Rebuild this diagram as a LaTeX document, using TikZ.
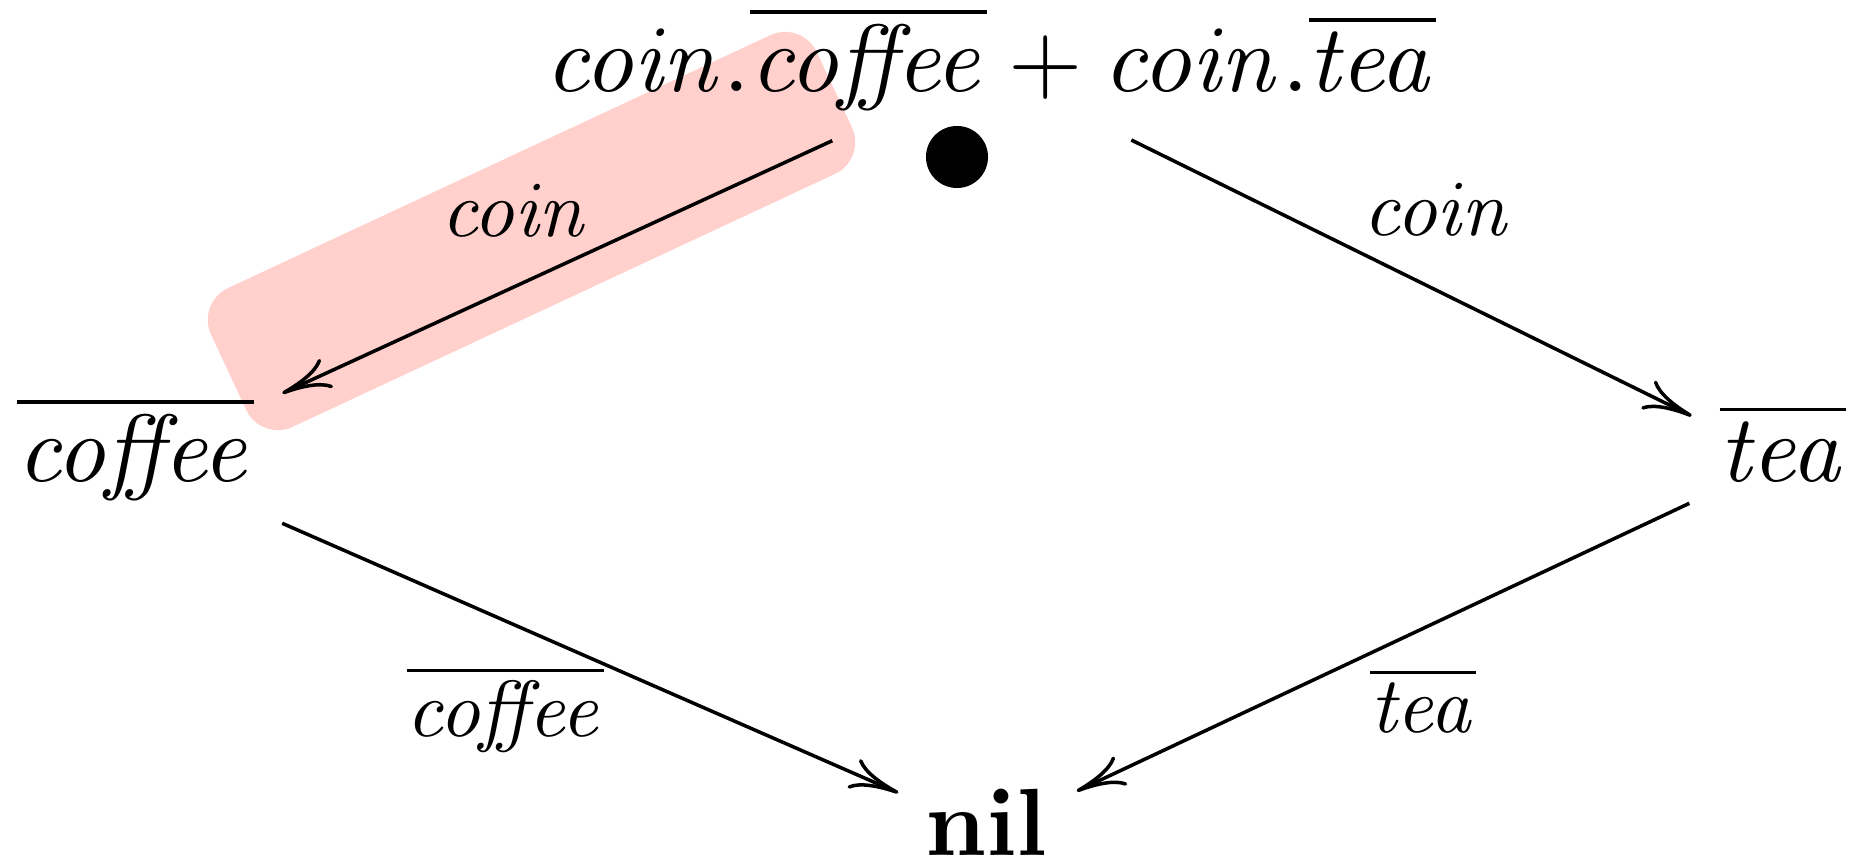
\documentclass[tikz,border=0pt]{standalone}
\usepackage{graphicx}
\usetikzlibrary{arrows.meta}
\definecolor{hlpink}{RGB}{255,208,204}
\newcommand\mainsc[1]{\scalebox{2.717}{#1}}
\newcommand\labsc[1]{\scalebox{2.265}{#1}}
\begin{document}
\begin{tikzpicture}[x=0.01cm,y=-0.01cm,
  txt/.style={anchor=base,inner sep=0pt},
  lab/.style={anchor=base,inner sep=0pt},
  arr/.style={line width=1pt,-{To[length=4.9mm,width=3.2mm]}},
  hl/.style={fill=hlpink,rounded corners=0.35cm,inner sep=0pt,
    minimum width=6.68cm,minimum height=1.53cm,rotate=25}]
\useasboundingbox (0,0) rectangle (1859,864);
% highlight behind the first transition
\node[hl] (hlbox) at (531.5,231) {};
% states
\node[txt] (top) at (990.5,92) {\mainsc{$\mathit{coin}.\overline{\mathit{coffee}}+\mathit{coin}.\overline{\mathit{tea}}$}};
\node[circle,fill=black,inner sep=0pt,minimum size=0.62cm] (dot) at (957,157) {};
\node[txt] (coffee) at (135.7,481.5) {\mainsc{$\overline{\mathit{coffee}}$}};
\node[txt] (tea) at (1783,481.7) {\mainsc{$\overline{\mathit{tea}}$}};
\node[txt] (nil) at (986.5,856) {\mainsc{$\mathbf{nil}$}};
% transitions
\draw[arr] ([shift={(-158.2,48.7)}]top.base) -- ([shift={(146.7,-88.2)}]coffee.base);
\draw[arr] ([shift={(140.8,48)}]top.base) -- ([shift={(-91.3,-65.7)}]tea.base);
\draw[arr] ([shift={(146.5,41.8)}]coffee.base) -- ([shift={(-88.2,-63.2)}]nil.base);
\draw[arr] ([shift={(-93.6,21.6)}]tea.base) -- ([shift={(90.2,-64.8)}]nil.base);
% labels
\node[lab] (l1) at (515.5,237) {\labsc{$\mathit{coin}$}};
\node[lab] (l2) at (1438,236) {\labsc{$\mathit{coin}$}};
\node[lab] (l3) at (505.3,737) {\labsc{$\overline{\mathit{coffee}}$}};
\node[lab] (l4) at (1423.3,732.7) {\labsc{$\overline{\mathit{tea}}$}};
\end{tikzpicture}
\end{document}
